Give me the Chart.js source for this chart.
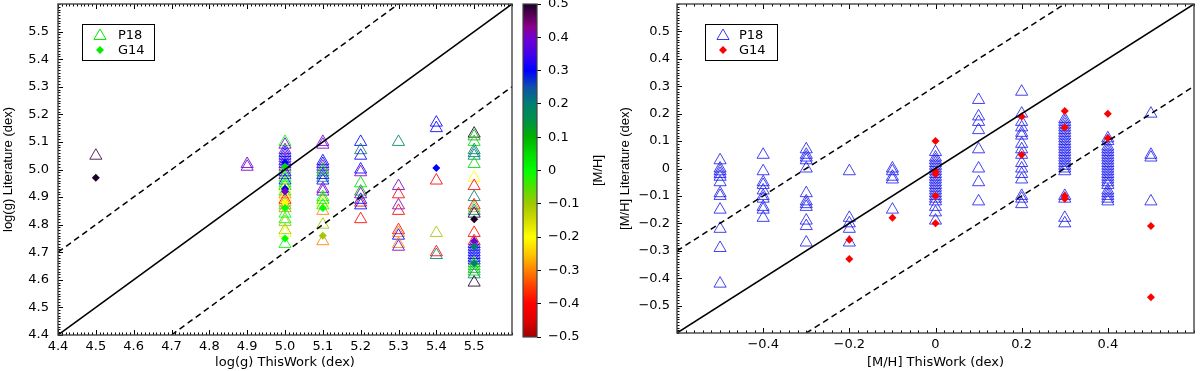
<!DOCTYPE html>
<html>
<head>
<meta charset="utf-8">
<script src="https://cdn.jsdelivr.net/npm/chart.js@4.4.0/dist/chart.umd.min.js"></script>
<style>
body { margin: 0; background: #fff; }
#wrap { position: relative; width: 1200px; height: 371px; }
canvas { position: absolute; top: 0; }
</style>
</head>
<body>
<div id="wrap">
<canvas id="graficLogg" width="515" height="371" style="left:0"></canvas>
<canvas id="graficBarra" width="95" height="371" style="left:515px"></canvas>
<canvas id="graficMH" width="590" height="371" style="left:610px"></canvas>
</div>
<script>
// painel log(g): colunas ThisWork, valores de literatura por coluna e [M/H] de cada ponto
const loggCols = [4.5, 4.9, 5.0, 5.1, 5.2, 5.3, 5.4, 5.5]
const loggP18 = [
    [5.05],
    [5.02, 5.01],
    [5.10, 5.09, 5.07, 5.06, 5.05, 5.04, 5.03, 5.02, 5.01, 5.00, 4.99, 4.98, 4.97, 4.96, 4.95, 4.94, 4.93, 4.92, 4.91, 4.90, 4.89, 4.88, 4.87, 4.86, 4.84, 4.82, 4.81, 4.78, 4.77, 4.73],
    [5.10, 5.09, 5.03, 5.02, 5.01, 5.00, 4.99, 4.98, 4.97, 4.96, 4.93, 4.92, 4.90, 4.89, 4.88, 4.87, 4.85, 4.80, 4.74],
    [5.10, 5.07, 5.05, 5.00, 4.99, 4.95, 4.92, 4.91, 4.89, 4.88, 4.87, 4.82],
    [5.10, 4.94, 4.91, 4.87, 4.85, 4.78, 4.77, 4.76, 4.73, 4.72],
    [5.17, 5.15, 4.96, 4.77, 4.70, 4.69],
    [5.13, 5.12, 5.10, 5.07, 5.06, 5.05, 5.02, 4.97, 4.94, 4.90, 4.87, 4.86, 4.85, 4.84, 4.77, 4.74, 4.73, 4.72, 4.71, 4.70, 4.69, 4.68, 4.67, 4.66, 4.65, 4.64, 4.63, 4.62, 4.59]
]
const loggP18MH = [
    [0.48],
    [0.4, 0.4],
    [0.0, 0.4, 0.4, 0.3, 0.3, 0.4, 0.3, 0.35, 0.4, 0.05, 0.3, 0.4, 0.0, 0.3, 0.0, 0.05, -0.2, 0.0, -0.3, -0.2, -0.4, -0.3, 0.0, -0.3, 0.0, 0.0, -0.1, -0.1, -0.2, 0.0],
    [0.4, 0.4, 0.3, 0.3, 0.4, 0.2, 0.1, 0.3, 0.2, 0.3, 0.4, 0.4, 0.0, 0.05, -0.2, 0.0, -0.3, -0.1, -0.3],
    [0.3, 0.2, 0.3, 0.3, 0.4, 0.05, 0.1, 0.4, 0.3, -0.4, 0.3, -0.4],
    [0.2, 0.4, -0.4, 0.4, -0.4, -0.4, -0.3, 0.3, -0.3, 0.4],
    [0.3, 0.3, -0.4, -0.1, -0.4, 0.2],
    [0.5, 0.1, 0.05, 0.2, 0.2, 0.2, 0.05, -0.2, -0.4, 0.2, -0.4, -0.1, 0.2, 0.5, -0.4, -0.4, 0.3, 0.3, 0.3, 0.3, 0.3, 0.3, 0.3, 0.1, 0.05, 0.1, 0.05, 0.2, 0.5]
]
const loggG14X = [4.5, 5.0, 5.0, 5.0, 5.0, 5.0, 5.0, 5.0, 5.1, 5.1, 5.4, 5.5, 5.5, 5.5, 5.5]
const loggG14Y = [4.97, 5.025, 5.01, 4.93, 4.92, 4.88, 4.86, 4.75, 4.86, 4.76, 5.005, 4.82, 4.74, 4.72, 4.66]
const loggG14MH = [0.5, 0.3, 0.05, 0.3, 0.4, -0.2, 0.0, 0.0, 0.0, -0.1, 0.3, 0.5, 0.4, 0.2, 0.2]

// painel [M/H]
const mhCols = [-0.5, -0.4, -0.3, -0.2, -0.1, 0.0, 0.1, 0.2, 0.3, 0.4, 0.5]
const mhP18 = [
    [0.03, 0.0, -0.01, -0.02, -0.03, -0.05, -0.09, -0.10, -0.15, -0.22, -0.29, -0.42],
    [0.05, -0.01, -0.05, -0.06, -0.08, -0.10, -0.11, -0.14, -0.15, -0.18],
    [0.07, 0.05, 0.04, 0.03, 0.0, -0.09, -0.12, -0.13, -0.14, -0.19, -0.21, -0.27],
    [-0.01, -0.18, -0.20, -0.22, -0.27],
    [0.0, -0.01, -0.03, -0.04, -0.15],
    [0.06, 0.04, 0.03, 0.02, 0.01, 0.0, -0.01, -0.02, -0.03, -0.04, -0.05, -0.06, -0.07, -0.08, -0.09, -0.10, -0.11, -0.12, -0.14, -0.16, -0.19],
    [0.25, 0.19, 0.17, 0.14, 0.07, 0.0, -0.05, -0.12],
    [0.28, 0.20, 0.17, 0.15, 0.13, 0.12, 0.09, 0.07, 0.05, 0.02, 0.0, -0.02, -0.04, -0.10, -0.11, -0.13],
    [0.18, 0.17, 0.16, 0.15, 0.14, 0.13, 0.12, 0.11, 0.10, 0.09, 0.08, 0.07, 0.06, 0.05, 0.04, 0.03, 0.02, 0.01, 0.0, -0.01, -0.10, -0.11, -0.18, -0.20],
    [0.11, 0.10, 0.08, 0.07, 0.06, 0.05, 0.04, 0.03, 0.02, 0.01, 0.0, -0.01, -0.02, -0.03, -0.04, -0.05, -0.06, -0.08, -0.09, -0.10, -0.11, -0.12],
    [0.20, 0.05, 0.04, -0.12]
]
const mhG14X = [-0.2, -0.2, -0.1, 0.0, 0.0, 0.0, 0.0, 0.0, 0.2, 0.2, 0.3, 0.3, 0.3, 0.3, 0.4, 0.4, 0.5, 0.5]
const mhG14Y = [-0.26, -0.33, -0.18, 0.10, -0.01, -0.02, -0.10, -0.20, 0.19, 0.05, 0.21, 0.15, -0.10, -0.11, 0.20, 0.11, -0.21, -0.47]

// rotulos dos eixos
const loggTicks = [4.4, 4.5, 4.6, 4.7, 4.8, 4.9, 5.0, 5.1, 5.2, 5.3, 5.4, 5.5]
const mhXTicks = [-0.4, -0.2, 0, 0.2, 0.4]
const mhYTicks = [-0.5, -0.4, -0.3, -0.2, -0.1, 0, 0.1, 0.2, 0.3, 0.4, 0.5]
const barraTicks = [-0.5, -0.4, -0.3, -0.2, -0.1, 0, 0.1, 0.2, 0.3, 0.4, 0.5]

// paleta da barra de cores
const paleta = [
    [-0.5, [160, 0, 0]], [-0.45, [224, 0, 0]], [-0.4, [255, 0, 0]], [-0.35, [255, 60, 0]],
    [-0.3, [255, 130, 0]], [-0.25, [255, 200, 0]], [-0.2, [255, 255, 0]], [-0.15, [210, 220, 0]],
    [-0.1, [160, 200, 0]], [-0.05, [80, 225, 0]], [0, [0, 255, 0]], [0.05, [0, 220, 0]],
    [0.1, [0, 176, 0]], [0.15, [0, 145, 70]], [0.2, [0, 128, 112]], [0.25, [16, 80, 170]],
    [0.3, [0, 0, 255]], [0.35, [70, 0, 235]], [0.4, [115, 0, 205]], [0.43, [140, 0, 140]],
    [0.47, [80, 0, 80]], [0.5, [26, 0, 40]]
]

function cor(m, a) {
    let c = paleta[paleta.length - 1][1]
    for (let i = 0; i < paleta.length - 1; i++) {
        const [v0, c0] = paleta[i], [v1, c1] = paleta[i + 1]
        if (m <= v1) {
            const t = Math.max(0, (m - v0) / (v1 - v0))
            c = c0.map((k, j) => Math.round(k + (c1[j] - k) * t))
            break
        }
    }
    return `rgba(${c[0]}, ${c[1]}, ${c[2]}, ${a})`
}

function pontos(cols, vals) {
    const out = []
    cols.forEach((c, i) => vals[i].forEach(v => out.push({ x: c, y: v })))
    return out
}

const fmt = v => Math.abs(v) < 1e-9 ? '0' : Number(v).toFixed(1).replace('-', '\u2212')

const fonteTick = { family: 'DejaVu Sans', size: 13 }
const fonteX = { family: 'DejaVu Sans', size: 13 }
const fonteY = { family: 'Liberation Sans', size: 13 }

// moldura com marcas para dentro
const moldura = {
    id: 'moldura',
    afterDatasetsDraw(chart, args, o) {
        const { ctx, chartArea: a, scales: { x, y } } = chart
        ctx.save()
        ctx.strokeStyle = '#000'
        ctx.lineWidth = 1
        ctx.beginPath()
        const nx = Math.round((x.max - x.min) / o.minX)
        for (let i = 0; i <= nx; i++) {
            const px = Math.round(x.getPixelForValue(x.min + i * o.minX)) + 0.5
            ctx.moveTo(px, a.bottom); ctx.lineTo(px, a.bottom - 2.5)
            ctx.moveTo(px, a.top); ctx.lineTo(px, a.top + 2.5)
        }
        const ny = Math.round((y.max - y.min) / o.minY)
        for (let i = 0; i <= ny; i++) {
            const py = Math.round(y.getPixelForValue(y.min + i * o.minY)) + 0.5
            ctx.moveTo(a.left, py); ctx.lineTo(a.left + 2.5, py)
        }
        o.majX.forEach(v => {
            const px = Math.round(x.getPixelForValue(v)) + 0.5
            ctx.moveTo(px, a.bottom); ctx.lineTo(px, a.bottom - 5)
            ctx.moveTo(px, a.top); ctx.lineTo(px, a.top + 5)
        })
        o.majY.forEach(v => {
            const py = Math.round(y.getPixelForValue(v)) + 0.5
            ctx.moveTo(a.left, py); ctx.lineTo(a.left + 5, py)
        })
        ctx.stroke()
        ctx.strokeStyle = '#444'
        ctx.lineWidth = 1.4
        ctx.strokeRect(a.left, a.top, a.right - a.left, a.bottom - a.top)
        ctx.restore()
    }
}

function triangulo(ctx, cx, cy, r) {
    ctx.beginPath()
    ctx.moveTo(cx, cy - r)
    ctx.lineTo(cx + r * 0.866, cy + r * 0.5)
    ctx.lineTo(cx - r * 0.866, cy + r * 0.5)
    ctx.closePath()
}

// legenda dentro do grafico
const legenda = {
    id: 'legenda',
    afterDraw(chart, args, o) {
        const ctx = chart.ctx
        ctx.save()
        ctx.fillStyle = '#fff'
        ctx.fillRect(o.x, o.y, o.w, o.h)
        ctx.strokeStyle = '#000'
        ctx.lineWidth = 1
        ctx.strokeRect(o.x + 0.5, o.y + 0.5, o.w, o.h)
        ctx.font = '13px "DejaVu Sans"'
        ctx.textBaseline = 'middle'
        o.itens.forEach((it, i) => {
            const cy = o.y + 11 + i * 15
            const mx = o.x + o.mx
            if (it.tipo === 'tri') {
                triangulo(ctx, mx, cy + 1, 7)
                ctx.strokeStyle = it.cor
                ctx.lineWidth = 1
                ctx.stroke()
            } else {
                ctx.beginPath()
                ctx.moveTo(mx, cy - 4); ctx.lineTo(mx + 4, cy); ctx.lineTo(mx, cy + 4); ctx.lineTo(mx - 4, cy)
                ctx.closePath()
                ctx.fillStyle = it.cor
                ctx.fill()
            }
            ctx.fillStyle = '#000'
            ctx.fillText(it.label, o.x + o.tx, cy + 1)
        })
        ctx.restore()
    }
}

// barra de cores
const barra = {
    id: 'barra',
    afterDraw(chart) {
        const { ctx, chartArea: a } = chart
        ctx.save()
        const g = ctx.createLinearGradient(0, a.bottom, 0, a.top)
        paleta.forEach(([v, c]) => g.addColorStop(v + 0.5, `rgb(${c[0]}, ${c[1]}, ${c[2]})`))
        ctx.fillStyle = g
        ctx.fillRect(a.left, a.top, a.right - a.left, a.bottom - a.top)
        ctx.strokeStyle = '#444'
        ctx.lineWidth = 1.2
        ctx.strokeRect(a.left, a.top, a.right - a.left, a.bottom - a.top)
        ctx.translate(83, (a.top + a.bottom) / 2)
        ctx.rotate(-Math.PI / 2)
        ctx.font = '13px "Liberation Sans"'
        ctx.fillStyle = '#000'
        ctx.textAlign = 'center'
        ctx.textBaseline = 'middle'
        ctx.fillText('[M/H]', 0, 0)
        ctx.restore()
    }
}

function linha(p, tracejada) {
    return {
        data: p, showLine: true, pointRadius: 0, borderColor: '#000',
        borderWidth: 1.5, borderDash: tracejada ? [6, 4] : [], fill: false
    }
}

// tamanho fixo dos eixos, sem folga extra para os rotulos das pontas
const fixaX = h => s => { s.height = h; s.paddingLeft = 0; s.paddingRight = 0 }
const fixaY = w => s => { s.width = w; s.paddingTop = 0; s.paddingBottom = 0 }

function eixo(min, max, ticks, pad, extra) {
    return Object.assign({
        type: 'linear', min: min, max: max,
        afterBuildTicks: s => { s.ticks = ticks.map(v => ({ value: v })) },
        grid: { display: false, drawTicks: false },
        border: { display: false },
        ticks: { color: '#000', font: fonteTick, padding: pad, callback: v => fmt(v), autoSkip: false, maxRotation: 0 }
    }, extra)
}

const graficLogg = document.getElementById('graficLogg')
const graficBarra = document.getElementById('graficBarra')
const graficMH = document.getElementById('graficMH')

const loggP18Cores = loggP18MH.flat().map(m => cor(m, 0.85))
const loggG14Cores = loggG14MH.map(m => cor(m, 1))

new Chart(graficLogg, {
    type: 'scatter',
    data: {
        datasets: [
            linha([{ x: 4.4, y: 4.4 }, { x: 5.6, y: 5.6 }], false),
            linha([{ x: 4.4, y: 4.7 }, { x: 5.3, y: 5.6 }], true),
            linha([{ x: 4.7, y: 4.4 }, { x: 5.6, y: 5.3 }], true),
            {
                label: 'G14',
                data: loggG14X.map((v, i) => ({ x: v, y: loggG14Y[i] })),
                pointStyle: 'rectRot', pointRadius: 4,
                backgroundColor: loggG14Cores, borderColor: loggG14Cores, borderWidth: 0
            },
            {
                label: 'P18',
                data: pontos(loggCols, loggP18),
                pointStyle: 'triangle', pointRadius: 7,
                backgroundColor: 'rgba(0,0,0,0)', borderColor: loggP18Cores, borderWidth: 1
            }
        ]
    },
    options: {
        responsive: false,
        animation: false,
        layout: { autoPadding: false, padding: { left: 0, right: 3, top: 4, bottom: 0 } },
        plugins: {
            legend: { display: false },
            tooltip: { enabled: false },
            moldura: { minX: 0.01, minY: 0.01, majX: loggTicks, majY: loggTicks },
            legenda: {
                x: 82, y: 24, w: 72, h: 36, mx: 18, tx: 36,
                itens: [
                    { label: 'P18', tipo: 'tri', cor: '#00ee00' },
                    { label: 'G14', tipo: 'dia', cor: '#00ee00' }
                ]
            }
        },
        scales: {
            x: eixo(4.4, 5.6, loggTicks, 4, {
                afterFit: fixaX(36),
                title: { display: true, text: 'log(g) ThisWork (dex)', color: '#000', font: fonteX, padding: { top: 0, bottom: 1 } }
            }),
            y: eixo(4.4, 5.6, loggTicks, 9, {
                afterFit: fixaY(58),
                title: { display: true, text: 'log(g) Literature (dex)', color: '#000', font: fonteY, padding: { top: 1, bottom: 0 } }
            })
        }
    },
    plugins: [moldura, legenda]
})

new Chart(graficBarra, {
    type: 'scatter',
    data: { datasets: [] },
    options: {
        responsive: false,
        animation: false,
        layout: { autoPadding: false, padding: { left: 8, right: 0, top: 4, bottom: 34 } },
        plugins: { legend: { display: false }, tooltip: { enabled: false } },
        scales: {
            x: { display: false, min: 0, max: 1 },
            y: {
                type: 'linear', position: 'right', min: -0.5, max: 0.5,
                afterBuildTicks: s => { s.ticks = barraTicks.map(v => ({ value: v })) },
                afterFit: fixaY(73),
                grid: { display: true, drawOnChartArea: false, drawTicks: true, tickLength: 4, color: '#000' },
                border: { display: false },
                ticks: { color: '#000', font: fonteTick, padding: 7, callback: v => fmt(v), autoSkip: false }
            }
        }
    },
    plugins: [barra]
})

new Chart(graficMH, {
    type: 'scatter',
    data: {
        datasets: [
            linha([{ x: -0.6, y: -0.6 }, { x: 0.6, y: 0.6 }], false),
            linha([{ x: -0.6, y: -0.3 }, { x: 0.3, y: 0.6 }], true),
            linha([{ x: -0.3, y: -0.6 }, { x: 0.6, y: 0.3 }], true),
            {
                label: 'G14',
                data: mhG14X.map((v, i) => ({ x: v, y: mhG14Y[i] })),
                pointStyle: 'rectRot', pointRadius: 4,
                backgroundColor: '#ff0000', borderColor: '#ff0000', borderWidth: 0
            },
            {
                label: 'P18',
                data: pontos(mhCols, mhP18),
                pointStyle: 'triangle', pointRadius: 7,
                backgroundColor: 'rgba(0,0,0,0)', borderColor: 'rgba(20,20,240,0.8)', borderWidth: 1
            }
        ]
    },
    options: {
        responsive: false,
        animation: false,
        layout: { autoPadding: false, padding: { left: 6, right: 6, top: 4, bottom: 0 } },
        plugins: {
            legend: { display: false },
            tooltip: { enabled: false },
            moldura: { minX: 0.02, minY: 0.01, majX: mhXTicks, majY: mhYTicks },
            legenda: {
                x: 95, y: 24, w: 72, h: 36, mx: 18, tx: 34,
                itens: [
                    { label: 'P18', tipo: 'tri', cor: 'rgba(20,20,240,0.85)' },
                    { label: 'G14', tipo: 'dia', cor: '#ff0000' }
                ]
            }
        },
        scales: {
            x: eixo(-0.6, 0.6, mhXTicks, 4, {
                afterFit: fixaX(38),
                title: { display: true, text: '[M/H] ThisWork (dex)', color: '#000', font: fonteX, padding: { top: 0, bottom: 1 } }
            }),
            y: eixo(-0.6, 0.6, mhYTicks, 7, {
                afterFit: fixaY(61),
                title: { display: true, text: '[M/H] Literature (dex)', color: '#000', font: fonteY, padding: { top: 2, bottom: 0 } }
            })
        }
    },
    plugins: [moldura, legenda]
})
</script>
</body>
</html>
